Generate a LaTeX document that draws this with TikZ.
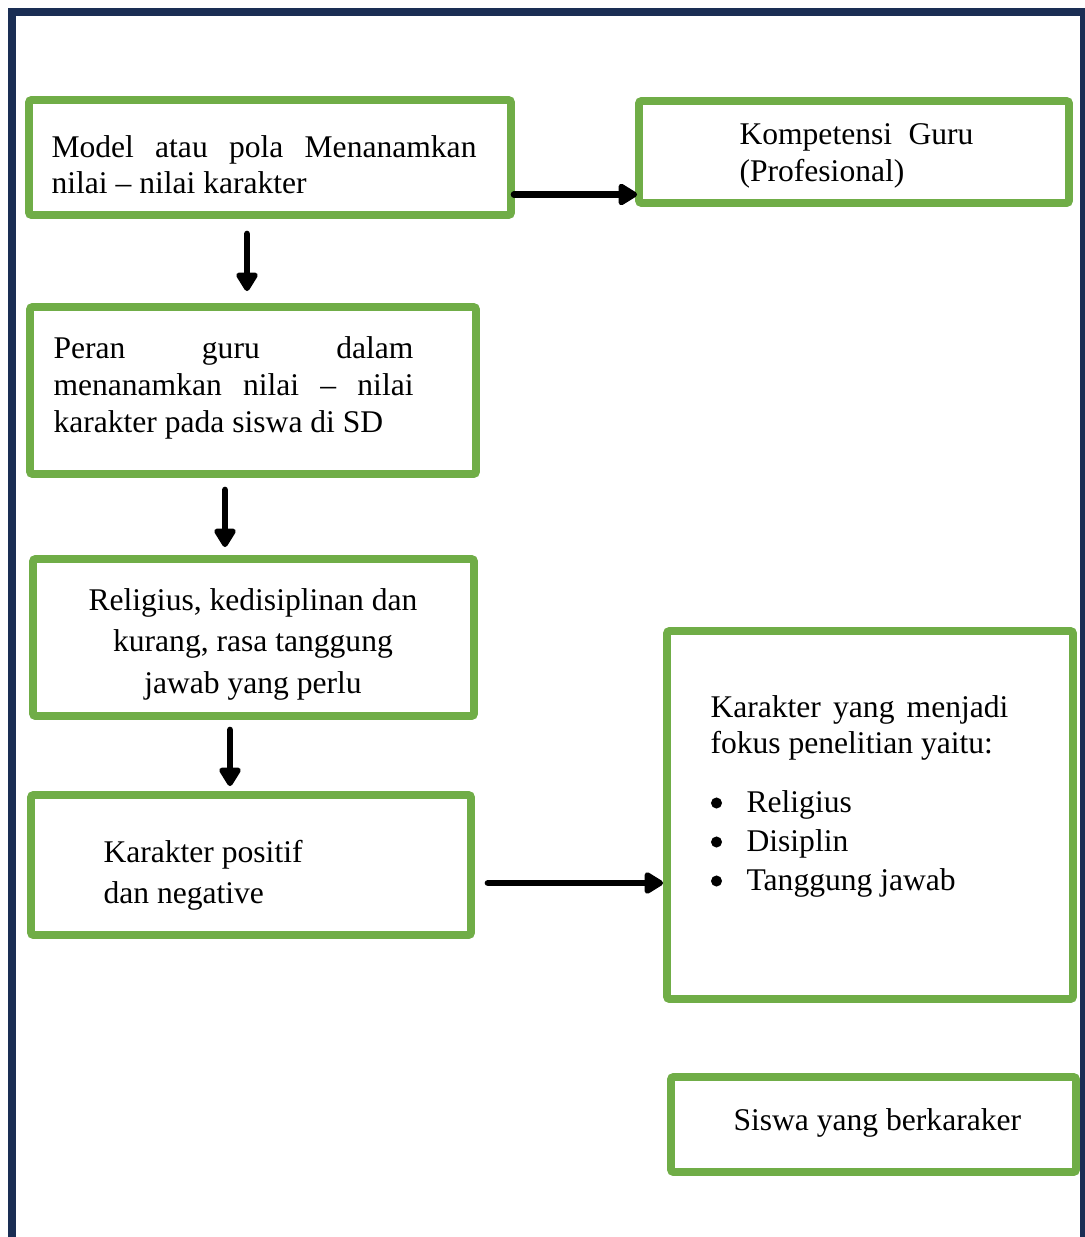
\documentclass[tikz,border=0pt]{standalone}
\usepackage{fontspec}
\setmainfont{Liberation Serif}
\usetikzlibrary{arrows.meta}
\definecolor{hijau}{RGB}{112,173,71}
\definecolor{biru}{RGB}{26,46,84}
\newcommand{\butir}{\hspace*{13.7pt}}
\tikzset{%
   kotak/.style={draw=hijau, line width=3pt, rounded corners=1pt, inner sep=0pt},
   teks/.style={inner sep=0pt, align=left, anchor=west},
   panah/.style={line width=2.5pt, line cap=round, -{Triangle[round, length=8pt, width=9.2pt]}},
   bingkai/.style={draw=biru, line width=3pt},
}

\begin{document}
\begin{tikzpicture}[x=0.38pt, y=-0.38pt]
      \useasboundingbox (0,0) rectangle (1085,1237);
      \draw[bingkai] (12,1250) -- (12,12) -- (1084,12) -- (1084,1250);
      % kotak
      \node[kotak, minimum width=482*0.38pt, minimum height=115*0.38pt] (model) at (270,157.5) {};
      \node[kotak, minimum width=430*0.38pt, minimum height=102*0.38pt] (kompetensi) at (854,152) {};
      \node[kotak, minimum width=446*0.38pt, minimum height=167*0.38pt] (peran) at (253,390.5) {};
      \node[kotak, minimum width=441*0.38pt, minimum height=157*0.38pt] (religius) at (253.5,637.5) {};
      \node[kotak, minimum width=440*0.38pt, minimum height=140*0.38pt] (positif) at (251,865) {};
      \node[kotak, minimum width=406*0.38pt, minimum height=368*0.38pt] (fokus) at (870,815) {};
      \node[kotak, minimum width=405*0.38pt, minimum height=95*0.38pt] (siswa) at (873.5,1124.5) {};
      % teks
      \node[teks, font=\fontsize{12}{13.7}\selectfont] (model-t) at (51,164.75)
         {\makebox[161.5pt][s]{Model atau pola Menanamkan}\\nilai – nilai karakter};
      \node[teks, font=\fontsize{12}{14.06}\selectfont] (kompetensi-t) at (739,156.25)
         {\makebox[88.9pt][s]{Kompetensi Guru}\\(Profesional)};
      \node[teks, font=\fontsize{12}{14.06}\selectfont] (peran-t) at (53,387.75)
         {\makebox[136.8pt][s]{Peran guru dalam}\\\makebox[136.8pt][s]{menanamkan nilai – nilai}\\karakter pada siswa di SD};
      \node[teks, anchor=center, align=center, font=\fontsize{12}{15.8}\selectfont] (religius-t) at (253,644.25)
         {Religius, kedisiplinan dan\\kurang, rasa tanggung\\jawab yang perlu};
      \node[teks, font=\fontsize{12}{15.6}\selectfont] (positif-t) at (103,875.25)
         {Karakter positif\\dan negative};
      \node[teks, font=\fontsize{12}{13.7}\selectfont] (fokus-t) at (710,796.25)
         {\makebox[113.2pt][s]{Karakter yang menjadi}\\fokus penelitian yaitu:\\[8.7pt]
          \butir Religius\\[1.1pt]
          \butir Disiplin\\[1.1pt]
          \butir Tanggung jawab};
      \node[teks, font=\fontsize{12}{14}\selectfont] (siswa-t) at (733,1122.75) {Siswa yang berkaraker};
      % titik daftar
      \foreach \y in {803,842,881}
         \fill (716.5,\y) circle[radius=2.1pt];
      % panah
      \draw[panah] ([shift={(-1,37)}]model.east) -- ([shift={(2,42.5)}]kompetensi.west);
      \draw[panah] ([shift={(-23,15)}]model.south) -- ([shift={(-6,-12)}]peran.north);
      \draw[panah] ([shift={(-28,12)}]peran.south) -- ([shift={(-28.5,-8)}]religius.north);
      \draw[panah] ([shift={(-23.5,10)}]religius.south) -- ([shift={(-21,-5)}]positif.north);
      \draw[panah] ([shift={(13,18)}]positif.east) -- ([shift={(0,68)}]fokus.west);
   \end{tikzpicture}
\end{document}
